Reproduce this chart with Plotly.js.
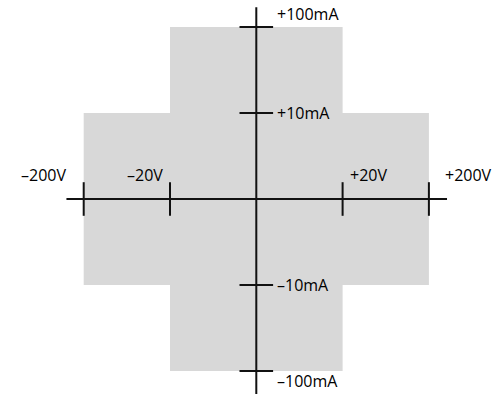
<!DOCTYPE html>
<html>
<head>
<meta charset="utf-8">
<script src="https://cdn.plot.ly/plotly-3.0.1.min.js"></script>
<style>html,body{margin:0;padding:0;background:#fff;}#chart{width:501px;height:394px;}</style>
</head>
<body>
<div id="chart"></div>
<script>
// Operating envelope: voltage limits (V) and the current limit (mA) allowed at each
var voltageLimits = [20, 200];
var currentLimits = [100, 10];
// Tick labels
var voltageTicks = [-200, -20, 20, 200];
var voltageLabels = ['\u2013200V', '\u201320V', '+20V', '+200V'];
var currentTicks = [100, 10, -10, -100];
var currentLabels = ['+100mA', '+10mA', '\u201310mA', '\u2013100mA'];

// log-like symmetric position on the axes (one decade per unit)
function vpos(v) { return Math.sign(v) * Math.log10(Math.abs(v) / 2); }
function ipos(i) { return Math.sign(i) * Math.log10(Math.abs(i)); }

// Cross-shaped region polygon built from the limits
var v1 = voltageLimits[0], v2 = voltageLimits[1];
var i1 = currentLimits[0], i2 = currentLimits[1];
var polyV = [-v1, v1, v1, v2, v2, v1, v1, -v1, -v1, -v2, -v2, -v1, -v1];
var polyI = [i1, i1, i2, i2, -i2, -i2, -i1, -i1, -i2, -i2, i2, i2, i1];

var traces = [
  {
    x: polyV.map(vpos), y: polyI.map(ipos), mode: 'lines', fill: 'toself',
    fillcolor: '#d8d8d8', line: {width: 0, color: '#d8d8d8'}, hoverinfo: 'skip', showlegend: false
  },
  {
    x: voltageTicks.map(vpos), y: voltageTicks.map(function(){return 0;}), mode: 'markers',
    marker: {symbol: 'line-ns', size: 24, line: {width: 2, color: '#111'}}, hoverinfo: 'skip', showlegend: false
  },
  {
    x: currentTicks.map(function(){return 0;}), y: currentTicks.map(ipos), mode: 'markers',
    marker: {symbol: 'line-ew', size: 24, line: {width: 2, color: '#111'}}, hoverinfo: 'skip', showlegend: false
  }
];

var xShift = [-16, -5, 5, 14];
var xAnchor = ['right', 'right', 'left', 'left'];
var yShift = [13, 0, 0, -10];

var annotations = [];
voltageTicks.forEach(function(v, k) {
  annotations.push({x: vpos(v), y: 0, xref: 'x', yref: 'y', text: voltageLabels[k], showarrow: false,
    xanchor: xAnchor[k], yanchor: 'middle', xshift: xShift[k], yshift: 24,
    font: {family: 'Open Sans, sans-serif', size: 16, color: '#000'}});
});
currentTicks.forEach(function(c, k) {
  annotations.push({x: 0, y: ipos(c), xref: 'x', yref: 'y', text: currentLabels[k], showarrow: false,
    xanchor: 'left', yanchor: 'middle', xshift: 19, yshift: yShift[k],
    font: {family: 'Open Sans, sans-serif', size: 16, color: '#000'}});
});

var layout = {
  width: 501, height: 394,
  margin: {l: 0, r: 0, t: 0, b: 0},
  paper_bgcolor: '#fff', plot_bgcolor: '#fff',
  xaxis: {visible: false, range: [-256.3/86.3, (501-256.3)/86.3], fixedrange: true},
  yaxis: {visible: false, range: [-(394-199)/86, 199/86], fixedrange: true},
  showlegend: false,
  shapes: [
    {type: 'line', xref: 'x', yref: 'y', x0: -2.2, x1: 2.21, y0: 0, y1: 0, line: {color: '#111', width: 2}},
    {type: 'line', xref: 'x', yref: 'y', x0: 0, x1: 0, y0: -2.3, y1: 2.23, line: {color: '#111', width: 2}}
  ],
  annotations: annotations
};

Plotly.newPlot('chart', traces, layout, {displayModeBar: false, staticPlot: true});
</script>
</body>
</html>
